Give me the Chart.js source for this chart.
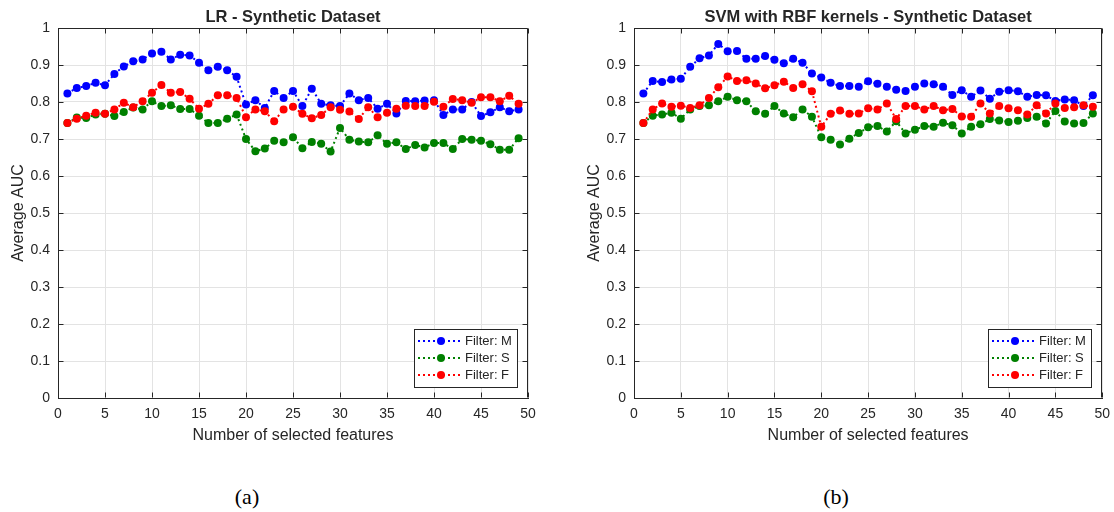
<!DOCTYPE html>
<html>
<head>
<meta charset="utf-8">
<title>AUC vs selected features</title>
<script src="https://cdn.jsdelivr.net/npm/chart.js@4.4.0/dist/chart.umd.min.js"></script>
<style>
  body { margin: 0; background: #fff; width: 1114px; height: 512px; position: relative; overflow: hidden; }
  canvas { position: absolute; top: 0; }
  #chartA { left: 0; }
  #chartB { left: 576px; }
  .caption { position: absolute; top: 486px; line-height: 1; font-family: "Liberation Serif", "Times New Roman", serif; font-size: 22px; color: #000; transform: translateX(-50%); }
</style>
</head>
<body>
<canvas id="chartA" width="560" height="460"></canvas>
<canvas id="chartB" width="542" height="460"></canvas>
<div class="caption" style="left:247px">(a)</div>
<div class="caption" style="left:836px">(b)</div>

<script>
// --- datos ---
const features = [1, 2, 3, 4, 5, 6, 7, 8, 9, 10, 11, 12, 13, 14, 15, 16, 17, 18, 19, 20,
  21, 22, 23, 24, 25, 26, 27, 28, 29, 30, 31, 32, 33, 34, 35, 36, 37, 38, 39, 40,
  41, 42, 43, 44, 45, 46, 47, 48, 49];
const xTicks = [0, 5, 10, 15, 20, 25, 30, 35, 40, 45, 50];
const yTicks = [0, 0.1, 0.2, 0.3, 0.4, 0.5, 0.6, 0.7, 0.8, 0.9, 1];
const seriesLabels = ['Filter: M', 'Filter: S', 'Filter: F'];

// (a) LR - Synthetic Dataset
const lrM = [0.823, 0.838, 0.843, 0.852, 0.845, 0.876, 0.896, 0.910, 0.915, 0.931,
  0.936, 0.915, 0.928, 0.926, 0.906, 0.886, 0.895, 0.886, 0.868, 0.793,
  0.805, 0.784, 0.830, 0.811, 0.830, 0.789, 0.836, 0.795, 0.791, 0.789,
  0.823, 0.805, 0.811, 0.782, 0.795, 0.769, 0.803, 0.802, 0.804, 0.805,
  0.765, 0.780, 0.780, 0.800, 0.762, 0.772, 0.786, 0.775, 0.780];
const lrS = [0.743, 0.758, 0.757, 0.766, 0.768, 0.762, 0.773, 0.785, 0.780, 0.802,
  0.789, 0.791, 0.781, 0.781, 0.763, 0.743, 0.743, 0.755, 0.766, 0.700,
  0.667, 0.674, 0.695, 0.691, 0.705, 0.675, 0.692, 0.687, 0.666, 0.730,
  0.698, 0.693, 0.691, 0.710, 0.687, 0.691, 0.673, 0.684, 0.677, 0.689,
  0.689, 0.673, 0.700, 0.698, 0.695, 0.686, 0.671, 0.671, 0.702];
const lrF = [0.743, 0.755, 0.763, 0.771, 0.768, 0.780, 0.798, 0.786, 0.802, 0.825,
  0.846, 0.825, 0.827, 0.809, 0.782, 0.795, 0.818, 0.818, 0.811, 0.759,
  0.780, 0.775, 0.748, 0.780, 0.787, 0.768, 0.756, 0.765, 0.786, 0.779,
  0.774, 0.754, 0.786, 0.759, 0.771, 0.782, 0.790, 0.789, 0.789, 0.801,
  0.787, 0.808, 0.805, 0.798, 0.813, 0.813, 0.802, 0.817, 0.795];

// (b) SVM with RBF kernels - Synthetic Dataset
const svmM = [0.823, 0.857, 0.854, 0.861, 0.863, 0.895, 0.918, 0.926, 0.957, 0.937,
  0.938, 0.917, 0.917, 0.924, 0.914, 0.905, 0.917, 0.906, 0.877, 0.866,
  0.852, 0.843, 0.843, 0.841, 0.856, 0.849, 0.841, 0.833, 0.830, 0.841,
  0.850, 0.848, 0.841, 0.819, 0.832, 0.814, 0.831, 0.809, 0.828, 0.832,
  0.829, 0.814, 0.819, 0.818, 0.803, 0.807, 0.805, 0.789, 0.818];
const svmS = [0.743, 0.763, 0.766, 0.771, 0.755, 0.780, 0.789, 0.791, 0.802, 0.814,
  0.805, 0.802, 0.775, 0.768, 0.789, 0.769, 0.759, 0.780, 0.760, 0.705,
  0.698, 0.685, 0.701, 0.716, 0.732, 0.735, 0.720, 0.748, 0.715, 0.725,
  0.735, 0.733, 0.744, 0.737, 0.715, 0.733, 0.740, 0.754, 0.750, 0.746,
  0.749, 0.757, 0.760, 0.742, 0.776, 0.747, 0.742, 0.743, 0.769];
const svmF = [0.743, 0.780, 0.796, 0.787, 0.790, 0.784, 0.791, 0.811, 0.840, 0.869,
  0.857, 0.859, 0.850, 0.837, 0.845, 0.855, 0.838, 0.848, 0.829, 0.733,
  0.768, 0.777, 0.768, 0.769, 0.783, 0.780, 0.796, 0.754, 0.789, 0.789,
  0.780, 0.789, 0.778, 0.781, 0.761, 0.760, 0.796, 0.769, 0.789, 0.783,
  0.778, 0.766, 0.791, 0.769, 0.796, 0.784, 0.786, 0.791, 0.787];

const colores = ['#0000ff', '#008000', '#ff0000'];
const ejeColor = '#262626';
const fuente = '"Liberation Sans", Arial, Helvetica, sans-serif';

// Marco estilo MATLAB: caja completa y marcas hacia dentro
const marcoPlugin = {
  id: 'marco',
  beforeDatasetsDraw(chart) {
    const { ctx, chartArea: a, scales: { x, y } } = chart;
    const L = Math.round(a.left) + 0.5, R = Math.round(a.right) - 0.5;
    const T = Math.round(a.top) + 0.5, B = Math.round(a.bottom) - 0.5;
    ctx.save();
    ctx.strokeStyle = ejeColor;
    ctx.lineWidth = 1;
    ctx.beginPath();
    ctx.moveTo(L, T); ctx.lineTo(R, T); ctx.lineTo(R, B);
    xTicks.forEach(v => {
      const px = Math.round(x.getPixelForValue(v)) + 0.5;
      ctx.moveTo(px, B); ctx.lineTo(px, B - 5);
      ctx.moveTo(px, T); ctx.lineTo(px, T + 5);
    });
    yTicks.forEach(v => {
      const py = Math.round(y.getPixelForValue(v)) + 0.5;
      ctx.moveTo(L, py); ctx.lineTo(L + 5, py);
      ctx.moveTo(R, py); ctx.lineTo(R - 5, py);
    });
    ctx.stroke();
    ctx.restore();
  }
};

// Leyenda dentro del área del gráfico (abajo a la derecha)
const leyendaPlugin = {
  id: 'leyendaCaja',
  afterDraw(chart) {
    const { ctx, chartArea: a } = chart;
    const w = 103, h = 58;
    const left = Math.round(a.right - 11 - w), top = Math.round(a.bottom - 11 - h);
    ctx.save();
    ctx.fillStyle = '#fff';
    ctx.fillRect(left, top, w, h);
    ctx.strokeStyle = ejeColor;
    ctx.lineWidth = 1;
    ctx.strokeRect(left + 0.5, top + 0.5, w, h);
    chart.data.datasets.forEach((ds, i) => {
      const yy = top + 12 + i * 17;
      ctx.strokeStyle = ds.borderColor;
      ctx.lineWidth = 2;
      ctx.setLineDash([2, 3]);
      ctx.beginPath();
      ctx.moveTo(left + 4, yy);
      ctx.lineTo(left + 49, yy);
      ctx.stroke();
      ctx.setLineDash([]);
      ctx.fillStyle = ds.pointBackgroundColor;
      ctx.beginPath();
      ctx.arc(left + 27, yy, 4, 0, Math.PI * 2);
      ctx.fill();
      ctx.fillStyle = ejeColor;
      ctx.font = '13px ' + fuente;
      ctx.textBaseline = 'middle';
      ctx.textAlign = 'left';
      ctx.fillText(ds.label, left + 51, yy);
    });
    ctx.restore();
  }
};

function serie(label, valores, color, orden) {
  return {
    label: label,
    data: features.map((f, i) => ({ x: f, y: valores[i] })),
    borderColor: color,
    backgroundColor: color,
    pointBackgroundColor: color,
    pointBorderWidth: 0,
    pointRadius: 4,
    pointHoverRadius: 4,
    borderWidth: 2,
    borderDash: [2, 3],
    tension: 0,
    order: orden
  };
}

function crearGrafico(id, titulo, m, s, f, padDerecha) {
  const ctx = document.getElementById(id).getContext('2d');
  return new Chart(ctx, {
    type: 'line',
    data: {
      datasets: [
        serie(seriesLabels[0], m, colores[0], 3),
        serie(seriesLabels[1], s, colores[1], 2),
        serie(seriesLabels[2], f, colores[2], 1)
      ]
    },
    options: {
      responsive: false,
      animation: false,
      devicePixelRatio: 1,
      layout: { padding: { left: 0, right: padDerecha, top: 0, bottom: 15 } },
      plugins: {
        legend: { display: false },
        tooltip: { enabled: false },
        title: {
          display: true,
          text: titulo,
          fullSize: false,
          color: ejeColor,
          font: { family: fuente, size: 16.5, weight: 'bold' },
          padding: { top: 8, bottom: 0.2 }
        }
      },
      scales: {
        x: {
          type: 'linear',
          min: 0,
          max: 50,
          afterBuildTicks: sc => { sc.ticks = xTicks.map(v => ({ value: v })); },
          afterFit: sc => { sc.height = 47; },
          ticks: {
            color: ejeColor,
            padding: 8,
            maxRotation: 0,
            font: { family: fuente, size: 14 },
            callback: v => String(v)
          },
          grid: { color: '#e3e3e3', drawTicks: false },
          border: { display: true, color: ejeColor, width: 1 },
          title: {
            display: true,
            text: 'Number of selected features',
            color: ejeColor,
            font: { family: fuente, size: 16 },
            padding: { top: 0, bottom: 0 }
          }
        },
        y: {
          type: 'linear',
          min: 0,
          max: 1,
          afterBuildTicks: sc => { sc.ticks = yTicks.map(v => ({ value: v })); },
          afterFit: sc => { sc.width = 58; },
          ticks: {
            color: ejeColor,
            padding: 8,
            font: { family: fuente, size: 14 },
            callback: v => String(v)
          },
          grid: { color: '#e3e3e3', drawTicks: false },
          border: { display: true, color: ejeColor, width: 1 },
          title: {
            display: true,
            text: 'Average AUC',
            color: ejeColor,
            font: { family: fuente, size: 16 },
            padding: { top: 9, bottom: 0 }
          }
        }
      }
    },
    plugins: [marcoPlugin, leyendaPlugin]
  });
}

crearGrafico('chartA', 'LR - Synthetic Dataset', lrM, lrS, lrF, 32);
crearGrafico('chartB', 'SVM with RBF kernels - Synthetic Dataset', svmM, svmS, svmF, 11);
</script>
</body>
</html>
